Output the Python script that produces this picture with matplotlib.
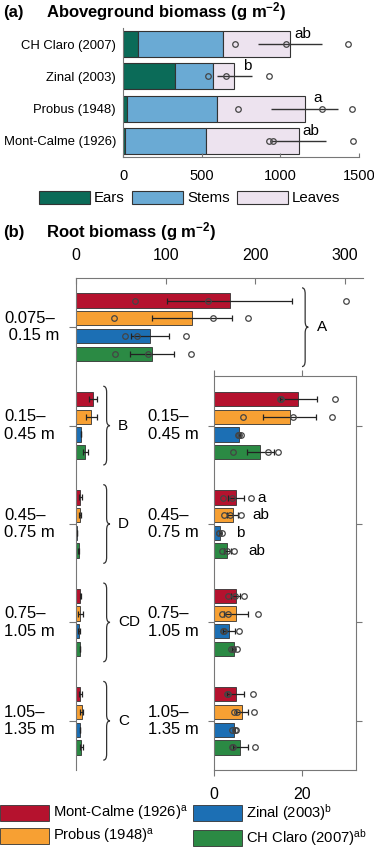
import numpy as np
import matplotlib
matplotlib.use('Agg')
import matplotlib.pyplot as plt
from matplotlib.path import Path
from matplotlib.patches import PathPatch, Patch
import matplotlib.transforms as mtransforms

plt.rcParams['font.family'] = ['Liberation Sans', 'DejaVu Sans']
plt.rcParams['mathtext.fontset'] = 'custom'
plt.rcParams['mathtext.rm'] = 'Liberation Sans'
plt.rcParams['mathtext.bf'] = 'Liberation Sans:bold'
plt.rcParams['mathtext.it'] = 'Liberation Sans:italic'

# ---- (a) aboveground biomass, rows from top ----
above_names = ['CH Claro (2007)', 'Zinal (2003)', 'Probus (1948)', 'Mont-Calme (1926)']
ears = [93, 333, 23, 15]
stems = [541, 239, 574, 515]
leaves = [427, 135, 557, 586]
above_se = [202, 112, 211, 174]
above_points = [[715, 1034, 1432], [540, 652, 926], [730, 1268, 1458], [930, 951, 1462]]
above_letters = ['ab', 'b', 'a', 'ab']
part_names = ['Ears', 'Stems', 'Leaves']

# ---- (b) root biomass per depth ----
depths = ['0.075–\n 0.15 m', '0.15–\n0.45 m', '0.45–\n0.75 m', '0.75–\n1.05 m', '1.05–\n1.35 m']
depth_letters = ['A', 'B', 'D', 'CD', 'C']
cultivars = ['Mont-Calme (1926)$^{\\rm a}$', 'Probus (1948)$^{\\rm a}$',
             'Zinal (2003)$^{\\rm b}$', 'CH Claro (2007)$^{\\rm ab}$']
mont_calme_mean = [171.3, 19.1, 5.0, 5.0, 5.0]
probus_mean = [129.3, 17.1, 4.3, 5.0, 6.4]
zinal_mean = [82.5, 5.8, 1.4, 3.4, 4.5]
claro_mean = [84.4, 10.5, 3.1, 4.5, 6.0]
mont_calme_se = [69.3, 4.2, 1.8, 1.0, 1.9]
probus_se = [44.4, 5.9, 1.2, 2.7, 1.4]
zinal_se = [20.8, 0.2, 0.2, 1.3, 0.25]
claro_se = [24.5, 3.0, 0.8, 0.3, 1.7]
mont_calme_pts = [[65.8, 146.8, 301.0], [14.9, 15.2, 27.4], [2.2, 4.1, 8.4], [3.3, 4.8, 6.8], [3.0, 3.3, 8.8]]
probus_pts = [[42.7, 152.4, 192.1], [6.5, 17.8, 26.7], [2.3, 3.7, 6.1], [1.8, 3.3, 9.9], [4.6, 5.2, 9.0]]
zinal_pts = [[54.6, 67.6, 122.6], [5.5, 5.8, 6.1], [1.1, 1.3, 1.8], [2.0, 2.4, 5.8], [4.2, 4.7, 5.0]]
claro_pts = [[43.5, 79.9, 128.2], [4.4, 12.3, 14.4], [1.9, 2.9, 4.6], [4.0, 4.4, 5.2], [4.1, 4.4, 9.3]]
inset_letters = ['a', 'ab', 'b', 'ab']   # 0.45-0.75 m
inset_letter_x = [10.8, 10.7, 5.9, 9.7]

means = [mont_calme_mean, probus_mean, zinal_mean, claro_mean]
ses = [mont_calme_se, probus_se, zinal_se, claro_se]
pts = [mont_calme_pts, probus_pts, zinal_pts, claro_pts]

part_colors = ['#0b6b58', '#6aaad4', '#ede3ef']
cult_colors = ['#b5122e', '#f7a033', '#1c6fb4', '#2b8a44']
edge = '#333333'
spine_c = '#777777'
W, H = 374, 850


def brace(ax, x0, y0, y1, w, r):
    ym = (y0 + y1) / 2
    xm = x0 + w / 2
    verts = [(x0, y0), (xm, y0), (xm, y0 + r), (xm, ym - r), (xm, ym), (x0 + w, ym),
             (xm, ym), (xm, ym + r), (xm, y1 - r), (xm, y1), (x0, y1)]
    codes = [Path.MOVETO, Path.CURVE3, Path.CURVE3, Path.LINETO, Path.CURVE3, Path.CURVE3,
             Path.CURVE3, Path.CURVE3, Path.LINETO, Path.CURVE3, Path.CURVE3]
    ax.add_patch(PathPatch(Path(verts, codes), fill=False, lw=0.9, ec='#333', clip_on=False))


fig = plt.figure(figsize=(W / 100, H / 100), dpi=100)

# ---------------- panel (a) ----------------
ax = fig.add_axes([123 / W, 1 - 157 / H, 236 / W, 129 / H])
y = np.arange(len(above_names))
left = np.zeros(len(y))
for vals, c in zip([ears, stems, leaves], part_colors):
    ax.barh(y, vals, left=left, height=0.8, color=c, edgecolor=edge, linewidth=0.8)
    left = left + np.array(vals)
totals = left
ax.errorbar(totals, y, xerr=above_se, fmt='none', ecolor='#333', elinewidth=1, capsize=0)
for i, p in enumerate(above_points):
    ax.plot(p, [y[i]] * len(p), 'o', mfc='none', mec='#444', ms=4, mew=0.9)
    ax.text(totals[i] + 80, y[i] - 0.32, above_letters[i], ha='center', va='center', fontsize=11)
ax.set_xlim(0, 1500)
ax.set_ylim(3.5, -0.5)
ax.set_yticks(y)
ax.set_yticklabels(above_names, fontsize=9.4)
ax.tick_params(axis='y', length=0, pad=5)
ax.set_xticks([0, 500, 1000, 1500])
ax.tick_params(axis='x', direction='in', length=3, pad=9, labelsize=10.5, color=spine_c)
for s in ['top', 'right']:
    ax.spines[s].set_visible(False)
for s in ['left', 'bottom']:
    ax.spines[s].set_color(spine_c)

fig.text(3 / W, 1 - 12 / H, '(a)', fontsize=12, fontweight='bold', va='center')
fig.text(46 / W, 1 - 12 / H, r'Aboveground biomass (g m$^{\mathbf{-2}}$)', fontsize=12,
         fontweight='bold', va='center')

fig.legend([Patch(fc=c, ec=edge, lw=0.8) for c in part_colors], part_names,
           loc='center left', bbox_to_anchor=(39 / W, 1 - 198 / H), ncol=3, frameon=False,
           fontsize=10.8, handlelength=3.4, handleheight=1.0, handletextpad=0.27,
           columnspacing=0.47, borderpad=0, borderaxespad=0)

# ---------------- panel (b) ----------------
fig.text(3 / W, 1 - 232 / H, '(b)', fontsize=12, fontweight='bold', va='center')
fig.text(46 / W, 1 - 232 / H, r'Root biomass (g m$^{\mathbf{-2}}$)', fontsize=12,
         fontweight='bold', va='center')

offsets = [-0.27, -0.09, 0.09, 0.27]
bh = 0.145
yd = np.arange(len(depths))

axm = fig.add_axes([76 / W, 1 - 770 / H, 287 / W, 492 / H])
for k in range(len(cultivars)):
    axm.barh(yd + offsets[k], means[k], height=bh, color=cult_colors[k], edgecolor=edge, linewidth=0.6)
    axm.errorbar(means[k], yd + offsets[k], xerr=ses[k], fmt='none', ecolor='#222',
                 elinewidth=0.9, capsize=2.5, capthick=0.9)
    axm.plot(pts[k][0], [offsets[k]] * 3, 'o', mfc='none', mec='#444', ms=4, mew=0.9)
axm.set_xlim(0, 320)
axm.set_ylim(4.5, -0.5)
axm.xaxis.tick_top()
axm.set_xticks([0, 100, 200, 300])
axm.tick_params(axis='x', direction='in', length=4, pad=11, labelsize=11.5, color=spine_c)
axm.set_yticks(yd)
axm.set_yticklabels([])
axm.tick_params(axis='y', direction='out', length=5, color=spine_c)
for s in ['bottom', 'right']:
    axm.spines[s].set_visible(False)
for s in ['top', 'left']:
    axm.spines[s].set_color(spine_c)
tr = mtransforms.blended_transform_factory(axm.transAxes, axm.transData)
axm.text((4 - 76) / 287, yd[0], depths[0], transform=tr, ha='left', va='center',
         fontsize=12, multialignment='left')
# braces with group letters
brace(axm, 252, yd[0] - 0.4, yd[0] + 0.4, 7, 0.06)
axm.text(268.5, yd[0], depth_letters[0], ha='left', va='center', fontsize=11)
for d in yd[1:]:
    axm.text((4 - 76) / 287, d, depths[d], transform=tr, ha='left', va='center',
             fontsize=12, multialignment='left')
    brace(axm, 30.4, d - 0.4, d + 0.4, 7.5, 0.06)
    axm.text(47, d, depth_letters[d], ha='left', va='center', fontsize=11)

# inset for deeper layers
axi = fig.add_axes([213.7 / W, 1 - 770 / H, 142 / W, 393.5 / H])
yi = yd[1:]
for k in range(len(cultivars)):
    axi.barh(yi + offsets[k], means[k][1:], height=bh, color=cult_colors[k], edgecolor=edge, linewidth=0.6)
    axi.errorbar(means[k][1:], yi + offsets[k], xerr=ses[k][1:], fmt='none', ecolor='#222',
                 elinewidth=0.9, capsize=2.5, capthick=0.9)
    for d in yi:
        axi.plot(pts[k][d], [d + offsets[k]] * 3, 'o', mfc='none', mec='#444', ms=4, mew=0.9)
    axi.text(inset_letter_x[k], 2 + offsets[k], inset_letters[k], ha='center', va='center', fontsize=11)
axi.set_xlim(0, 32)
axi.set_ylim(4.5, 0.5)
axi.set_xticks([0, 20])
axi.tick_params(axis='x', direction='out', length=4, top=True, pad=8, labelsize=11.5, color=spine_c)
axi.set_yticks(yi)
axi.set_yticklabels([])
axi.tick_params(axis='y', direction='out', length=4, right=True, color=spine_c)
for s in axi.spines.values():
    s.set_color(spine_c)
tri = mtransforms.blended_transform_factory(axi.transAxes, axi.transData)
for d in yi:
    axi.text((147.7 - 213.7) / 142, d, depths[d], transform=tri, ha='left', va='center',
             fontsize=12, multialignment='left')

fig.legend([Patch(fc=c, ec=edge, lw=0.6) for c in cult_colors], cultivars,
           loc='upper left', bbox_to_anchor=(0, 1 - 802 / H), ncol=2, frameon=False,
           fontsize=10.6, handlelength=3.3, handleheight=1.3, handletextpad=0.3,
           labelspacing=0.3, columnspacing=0.35, borderpad=0, borderaxespad=0)

fig.savefig('out.png', dpi=100)
